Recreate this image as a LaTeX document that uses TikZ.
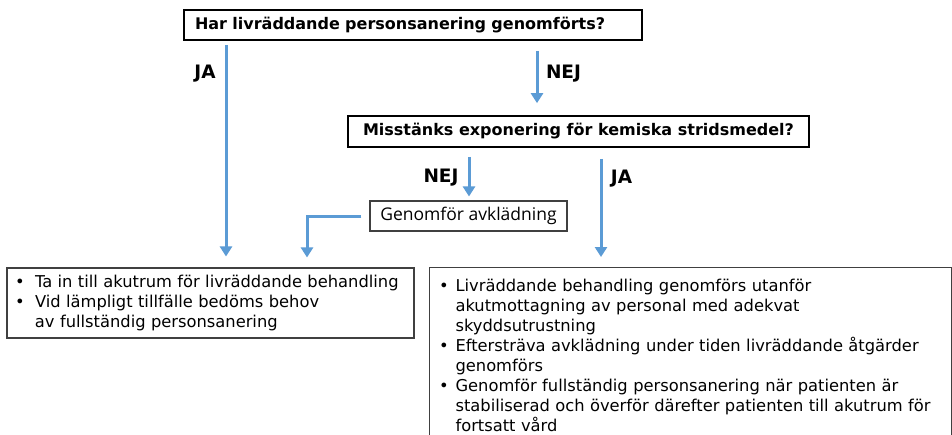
\documentclass[tikz,border=0pt]{standalone}
\usepackage{fontspec}
\setmainfont{DejaVu Sans}
\newfontfamily\boxfont{Open Sans}
\usetikzlibrary{arrows.meta}
\definecolor{flowblue}{RGB}{91,155,213}
\definecolor{boxgray}{RGB}{64,64,64}
\newcommand{\bul}[1][20pt]{\makebox[#1][l]{\textbullet}}
\newcommand{\bulskip}[1][20pt]{\hspace*{#1}}
\begin{document}
\begin{tikzpicture}[x=1pt,y=-1pt,
    question/.style={draw=black,line width=1.7pt,font=\bfseries\fontsize{16}{19}\selectfont,inner sep=0pt},
    action/.style={draw=boxgray,line width=1.1pt,font=\boxfont\fontsize{17.5}{20}\selectfont,inner sep=0pt},
    result/.style={draw=boxgray,line width=1.1pt,font=\fontsize{16.3}{20}\selectfont,align=left},
    answer/.style={font=\bfseries\fontsize{18.5}{21}\selectfont},
    flow/.style={draw=flowblue,line width=3pt,-{Triangle[width=12pt,length=10pt]}}]
  \clip (0,0) rectangle (952,434);
  \fill[white] (0,0) rectangle (952,434);
  \draw
    (413,25) node[question,minimum height=30pt,text width=436pt,inner xsep=11pt,align=left] (q1) {Har livräddande personsanering genomförts?}
    (578.5,131.5) node[question,minimum width=461pt,minimum height=31pt] (q2) {Misstänks exponering för kemiska stridsmedel?}
    (468.5,216) node[action,minimum width=197pt,minimum height=30pt] (av) {Genomför avklädning}
    (210.5,303) node[result,minimum height=70pt,text width=391pt,inner xsep=8pt,inner ysep=0pt] (b1)
      {\bul Ta in till akutrum för livräddande behandling\\
       \bul Vid lämpligt tillfälle bedöms behov\\
       \bulskip av fullständig personsanering}
    (429,267) node[result,anchor=north west,text width=503pt,inner xsep=9.5pt,inner ysep=11.5pt] (b2)
      {\bul[16.5pt]Livräddande behandling genomförs utanför\\
       \bulskip[16.5pt]akutmottagning av personal med adekvat\\
       \bulskip[16.5pt]skyddsutrustning\\
       \bul[16.5pt]Eftersträva avklädning under tiden livräddande åtgärder\\
       \bulskip[16.5pt]genomförs\\
       \bul[16.5pt]Genomför fullständig personsanering när patienten är\\
       \bulskip[16.5pt]stabiliserad och överför därefter patienten till akutrum för\\
       \bulskip[16.5pt]fortsatt vård};
  \coordinate (x1) at (226,0);
  \coordinate (x2) at (537,0);
  \coordinate (x3) at (469,0);
  \coordinate (x4) at (601,0);
  \coordinate (x5) at (307,0);
  \begin{scope}[flow]
    \draw ([yshift=-4pt]q1.south -| x1) -- ([yshift=11pt]b1.north -| x1);
    \draw ([yshift=-10pt]q1.south -| x2) -- ([yshift=12pt]q2.north -| x2);
    \draw ([yshift=-9pt]q2.south -| x3) -- ([yshift=4pt]av.north -| x3);
    \draw ([yshift=-11pt]q2.south -| x4) -- ([yshift=10pt]b2.north -| x4);
    \draw ([xshift=-8pt]av.west) -| ([yshift=10pt]b1.north -| x5);
  \end{scope}
  \node[answer] (ja1) at (205,74) {JA};
  \node[answer] (nej1) at (563.5,74) {NEJ};
  \node[answer] (nej2) at (441,177.5) {NEJ};
  \node[answer] (ja2) at (621.5,178.5) {JA};
\end{tikzpicture}
\end{document}
